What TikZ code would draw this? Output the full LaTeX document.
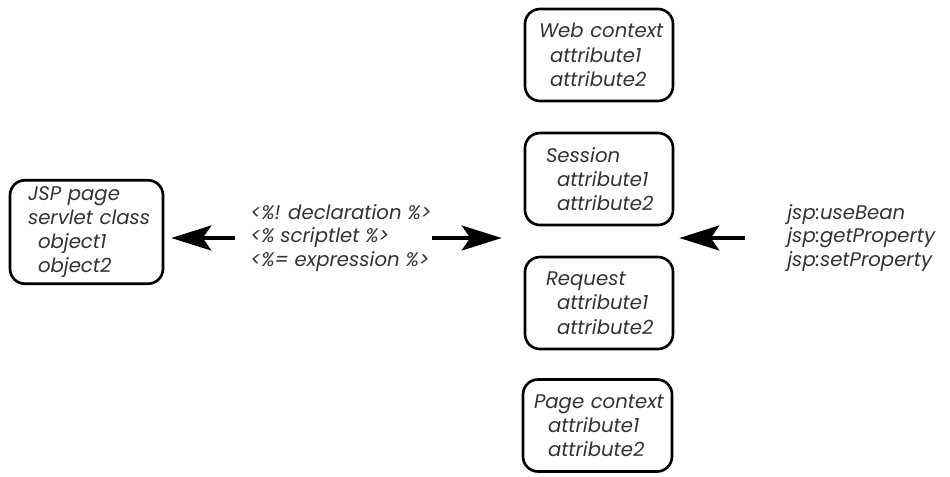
\documentclass[tikz,border=0pt]{standalone}
\usepackage{fontspec}
\setmainfont{Poppins}
\usetikzlibrary{arrows.meta}
\begin{document}
\begin{tikzpicture}[>={Stealth[length=8mm,width=5mm,inset=1.7mm]},
  scopebox/.style={draw,line width=1.5pt,rounded corners=3mm,minimum height=1.84cm,
    inner xsep=2mm,align=left,text=black!80,font=\itshape\fontsize{11.2}{13.8}\selectfont},
  taglist/.style={align=left,inner sep=0pt,text=black!80,font=\itshape\fontsize{11.2}{13.4}\selectfont}]
\useasboundingbox (0,0) rectangle (19,9.52);
\path
(1.73,4.88)  node[scopebox,text width=2.66cm] (jsp)
  {\hspace*{1.6mm}\mbox{JSP page}\\\hspace*{1.6mm}\mbox{servlet class}\\\hspace*{3.6mm}object1\\\hspace*{3.6mm}object2}
(5,4.76)     node[taglist,anchor=west] (code)
  {<\%! declaration \%>\\<\% scriptlet \%>\\<\%= expression \%>}
(11.98,8.42) node[scopebox,text width=2.56cm] (web)
  {\hspace*{0.8mm}\mbox{Web context}\\\hspace*{3mm}attribute1\\\hspace*{3mm}attribute2}
+(0,-2.48)   node[scopebox,text width=2.56cm] (session)
  {\hspace*{2.2mm}Session\\\hspace*{4.4mm}attribute1\\\hspace*{4.4mm}attribute2}
+(0,-4.96)   node[scopebox,text width=2.56cm] (request)
  {\hspace*{2.2mm}Request\\\hspace*{4.4mm}attribute1\\\hspace*{4.4mm}attribute2}
+(-0.03,-7.41) node[scopebox,text width=2.58cm] (page)
  {\hspace*{0.2mm}\mbox{Page context}\\\hspace*{3mm}attribute1\\\hspace*{3mm}attribute2}
(15.74,4.76) node[taglist,anchor=west] (tags)
  {jsp:useBean\\jsp:getProperty\\jsp:setProperty};

\draw[->,line width=1.8pt,shorten <=3mm,shorten >=1.4mm] (code.west)--(code.west -| jsp.east);
\draw[->,line width=1.8pt,shorten >=4.4mm] (code.east)--(code.east -| session.west);
\draw[->,line width=1.8pt,shorten <=8.4mm,shorten >=1mm] (tags.west)--(tags.west -| session.east);
\end{tikzpicture}
\end{document}
